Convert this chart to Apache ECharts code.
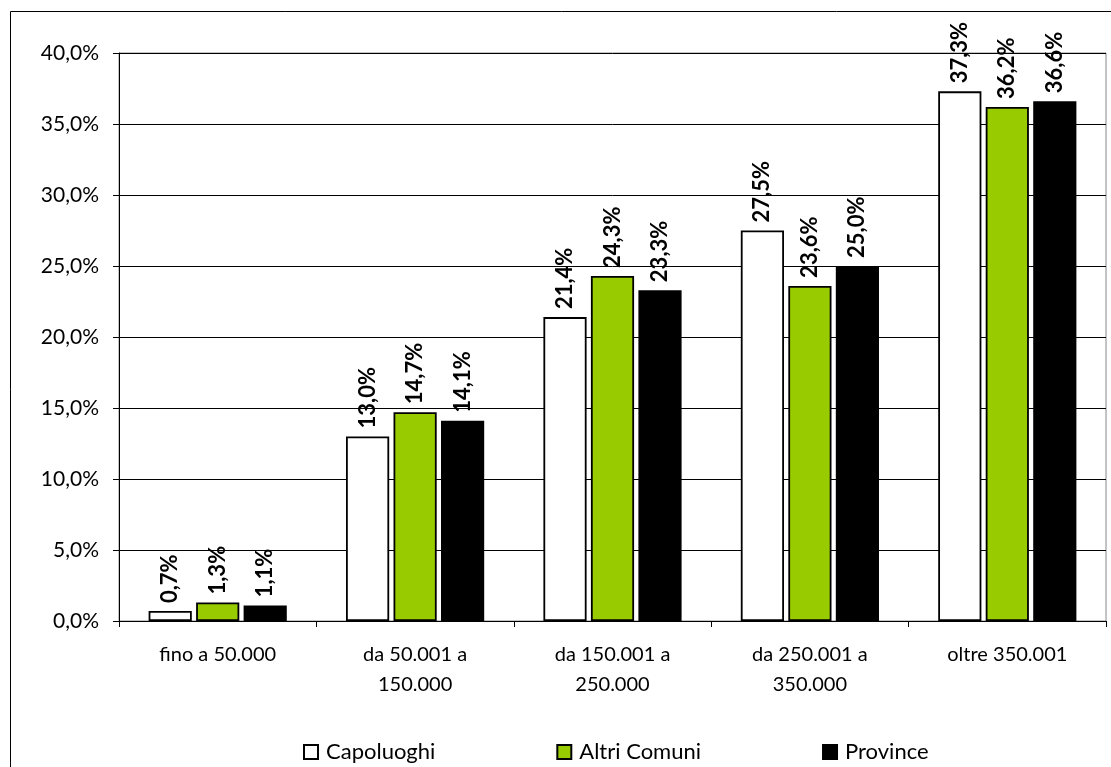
<!DOCTYPE html>
<html>
<head>
<meta charset="utf-8">
<script src="https://cdn.jsdelivr.net/npm/echarts@6/dist/echarts.min.js"></script>
<style>
  html, body { margin: 0; padding: 0; background: #fff; }
  #chart { width: 1111px; height: 767px; }
</style>
</head>
<body>
<div id="chart"></div>
<script>
// categorie (fasce)
var categories = ["fino a 50.000", "da 50.001 a\n150.000", "da 150.001 a\n250.000", "da 250.001 a\n350.000", "oltre 350.001"];
var capoluoghi = [0.7, 13.0, 21.4, 27.5, 37.3];
var altriComuni = [1.3, 14.7, 24.3, 23.6, 36.2];
var province = [1.1, 14.1, 23.3, 25.0, 36.6];

var fontFam = "Lato, 'Open Sans', sans-serif";

function pct(v) {
  return v.toFixed(1).replace(".", ",") + "%";
}

function makeSeries(name, data, color) {
  return {
    name: name,
    type: "bar",
    data: data,
    barGap: "10%",
    barCategoryGap: "30%",
    itemStyle: { color: color, borderColor: "#000", borderWidth: 1.8 },
    label: {
      show: true,
      position: "top",
      rotate: 90,
      align: "left",
      verticalAlign: "middle",
      distance: 8,
      fontFamily: fontFam,
      fontWeight: "bold",
      fontSize: 22,
      color: "#000",
      formatter: function (p) { return pct(p.value); }
    }
  };
}

var myChart = echarts.init(document.getElementById("chart"));
var option = {
  animation: false,
  backgroundColor: "#fff",
  graphic: [{
    type: "rect",
    shape: { x: 10.5, y: 11.5, width: 1110, height: 770 },
    style: { fill: null, stroke: "#000", lineWidth: 1 },
    silent: true
  }],
  grid: {
    left: 119, top: 53, right: 5, bottom: 146,
    show: true, borderColor: "#888", borderWidth: 1, backgroundColor: "transparent"
  },
  legend: {
    top: 736,
    left: 298,
    itemWidth: 14,
    itemHeight: 14,
    itemGap: 121,
    icon: "rect",
    textStyle: { fontFamily: fontFam, fontSize: 22, color: "#000", padding: [0, 0, 0, 3] },
    data: ["Capoluoghi", "Altri Comuni", "Province"]
  },
  xAxis: {
    type: "category",
    data: categories,
    axisLine: { lineStyle: { color: "#000", width: 1 } },
    axisTick: { show: true, length: 6, lineStyle: { color: "#000" } },
    axisLabel: { fontFamily: fontFam, fontSize: 20, color: "#000", margin: 19, lineHeight: 30 }
  },
  yAxis: {
    type: "value",
    min: 0,
    max: 40,
    interval: 5,
    axisLine: { show: true, lineStyle: { color: "#000", width: 1 } },
    axisTick: { show: true, length: 6, lineStyle: { color: "#000" } },
    splitLine: { lineStyle: { color: "#000", width: 1 } },
    axisLabel: {
      fontFamily: fontFam, fontSize: 21, color: "#000", margin: 20,
      formatter: function (v) { return pct(v); }
    }
  },
  series: [
    makeSeries("Capoluoghi", capoluoghi, "#fff"),
    makeSeries("Altri Comuni", altriComuni, "#99cc00"),
    makeSeries("Province", province, "#000")
  ]
};
myChart.setOption(option);
</script>
</body>
</html>
